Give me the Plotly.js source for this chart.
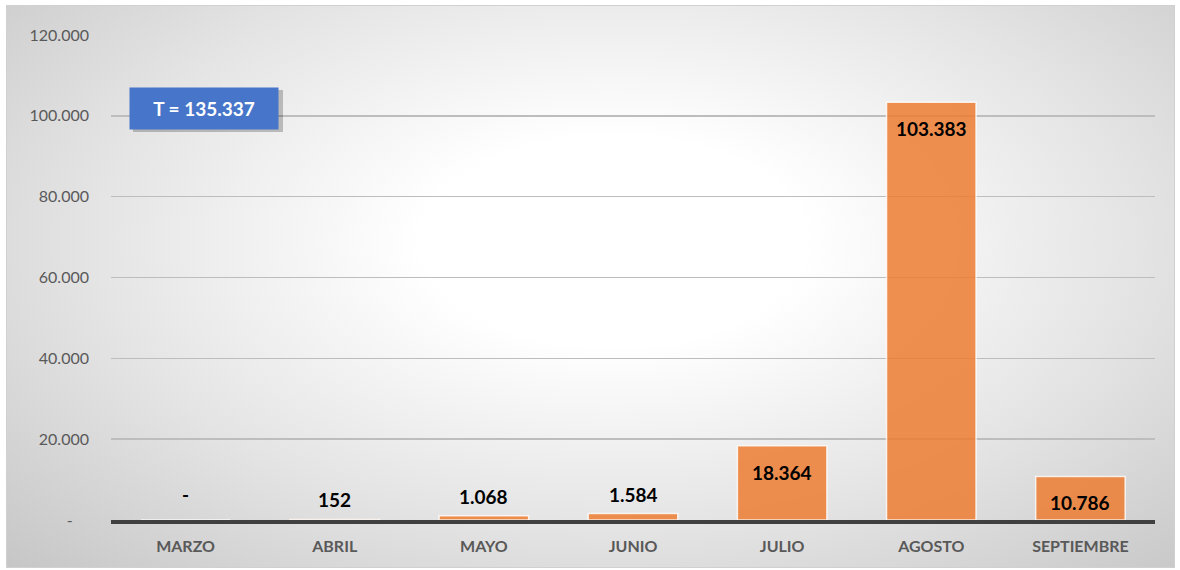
<!DOCTYPE html>
<html>
<head>
<meta charset="utf-8">
<script src="https://cdn.plot.ly/plotly-3.0.1.min.js"></script>
<style>
  html, body { margin: 0; padding: 0; background: #ffffff; }
  #wrap { position: relative; width: 1180px; height: 570px; }
  #bg {
    position: absolute; left: 6px; top: 5px; width: 1167px; height: 561px;
    border: 1px solid #d0d0d0;
    background: radial-gradient(ellipse 75% 85% at 52% 42%, #ffffff 0%, #ffffff 22%, #e4e4e4 60%, #c4c4c4 100%);
  }
  #chart { position: absolute; left: 0; top: 0; width: 1180px; height: 570px; }
</style>
</head>
<body>
<div id="wrap">
  <div id="bg"></div>
  <div id="chart"></div>
</div>
<script>
const categories = ['MARZO', 'ABRIL', 'MAYO', 'JUNIO', 'JULIO', 'AGOSTO', 'SEPTIEMBRE'];
const values = [0, 152, 1068, 1584, 18364, 103383, 10786];
const valueLabels = ['-', '152', '1.068', '1.584', '18.364', '103.383', '10.786'];
const labelInside = [false, false, false, false, true, true, true];
const yTickVals = [0, 20000, 40000, 60000, 80000, 100000, 120000];
const yTickText = ['-\u00a0\u00a0\u00a0\u00a0', '20.000', '40.000', '60.000', '80.000', '100.000', '120.000'];
const totalLabel = 'T = 135.337';

const FONT = 'Lato, "Open Sans", "Liberation Sans", sans-serif';

const trace = {
  type: 'bar',
  x: categories,
  y: values,
  marker: {
    color: 'rgba(236,125,49,0.85)',
    line: { color: 'rgba(255,255,255,0.8)', width: 1.5 }
  },
  width: 0.6,
  hoverinfo: 'skip'
};

const annotations = categories.map((c, i) => ({
  x: c,
  y: values[i],
  xref: 'x',
  yref: 'y',
  text: '<b>' + valueLabels[i] + '</b>',
  showarrow: false,
  yanchor: labelInside[i] ? 'top' : 'bottom',
  yshift: labelInside[i] ? -13 : (values[i] === 0 ? 12 : 6),
  font: { family: FONT, size: 19, color: '#000000' }
}));

annotations.push({
  xref: 'paper', yref: 'paper',
  x: (204 - 111) / (1155 - 111),
  y: (520 - 108) / (520 - 35),
  xanchor: 'center', yanchor: 'middle',
  text: '<b>' + totalLabel + '</b>',
  showarrow: false,
  bgcolor: '#4775c9',
  borderpad: 0,
  width: 148,
  height: 41,
  font: { family: FONT, size: 19, color: '#ffffff' }
});

const layout = {
  width: 1180,
  height: 570,
  margin: { l: 111, r: 25, t: 35, b: 50 },
  paper_bgcolor: 'rgba(0,0,0,0)',
  plot_bgcolor: 'rgba(0,0,0,0)',
  showlegend: false,
  bargap: 0.4,
  xaxis: {
    type: 'category',
    showgrid: false,
    showline: true,
    linecolor: '#404040',
    linewidth: 4,
    ticks: '',
    tickfont: { family: FONT, size: 16, color: '#595959', weight: 'bold' },
    ticklabelstandoff: 9
  },
  yaxis: {
    range: [0, 120000],
    tickvals: yTickVals,
    ticktext: yTickText,
    showgrid: true,
    gridcolor: '#bdbdbd',
    gridwidth: 1.5,
    zeroline: false,
    showline: false,
    ticks: '',
    ticklabelstandoff: 21,
    tickfont: { family: FONT, size: 16, color: '#595959' }
  },
  shapes: [
    {
      type: 'rect', xref: 'paper', yref: 'paper',
      x0: (133 - 111) / 1044, x1: (283 - 111) / 1044,
      y0: (520 - 132) / 485, y1: (520 - 90) / 485,
      fillcolor: 'rgba(0,0,0,0.22)', line: { width: 0 }, layer: 'above'
    }
  ],
  annotations: annotations
};

Plotly.newPlot('chart', [trace], layout, { displayModeBar: false, staticPlot: true });
</script>
</body>
</html>
